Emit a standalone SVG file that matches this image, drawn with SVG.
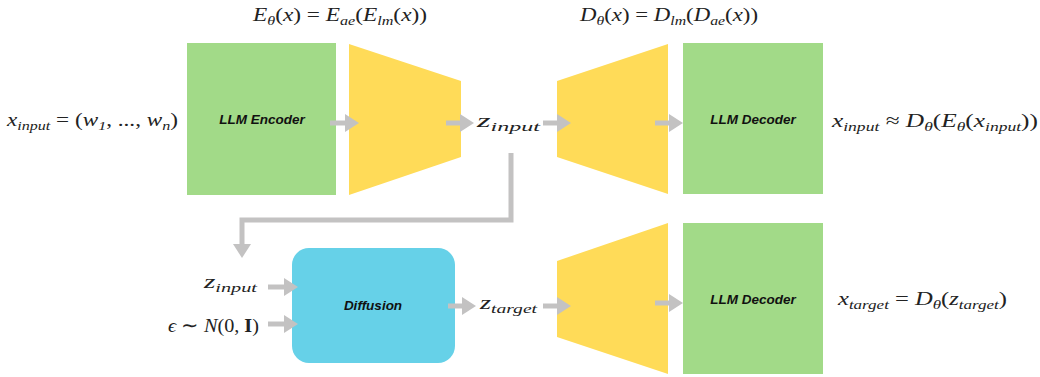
<svg xmlns="http://www.w3.org/2000/svg" width="1040" height="377" viewBox="0 0 1040 377">
<style>
.green{fill:#A2DA88}
.yellow{fill:#FFDB58}
.blue{fill:#66D1E8}
.lbl{font-family:"Liberation Sans",Arial,sans-serif;font-weight:bold;font-style:italic;font-size:13.5px;fill:#111;text-anchor:middle}
.m{font-family:"Liberation Serif","Times New Roman",serif;font-size:19.5px;fill:#222}
.i{font-style:italic}
.s{font-size:13.5px;font-style:italic}
.b{font-weight:bold}
.conn{stroke:#C3C2C2;stroke-width:5;fill:none}
</style>
<defs>
<marker id="ah" markerUnits="userSpaceOnUse" markerWidth="14" markerHeight="18" refX="0" refY="9" orient="auto">
<path d="M0,0 L14,9 L0,18 z" fill="#C3C2C2"/>
</marker>
</defs>

<g id="encoder-llm"><rect class="green" x="187" y="43" width="149" height="152"/><text class="lbl" x="262" y="124">LLM Encoder</text></g>
<g id="encoder-ae"><polygon class="yellow" points="349,44 461,81 461,157 349,195"/></g>
<g id="decoder-ae-top"><polygon class="yellow" points="557,81 668,44 668,194 557,157"/></g>
<g id="decoder-llm-top"><rect class="green" x="683" y="43" width="140" height="151"/><text class="lbl" x="753" y="124">LLM Decoder</text></g>
<g id="diffusion"><rect class="blue" x="292" y="248" width="163" height="115" rx="17"/><text class="lbl" x="373" y="310">Diffusion</text></g>
<g id="decoder-ae-bottom"><polygon class="yellow" points="557,261 668,223 668,374 557,337"/></g>
<g id="decoder-llm-bottom"><rect class="green" x="683" y="223" width="140" height="151"/><text class="lbl" x="753" y="304">LLM Decoder</text></g>

<g id="connectors">
<line class="conn" x1="330" y1="123" x2="345" y2="123" marker-end="url(#ah)"/>
<line class="conn" x1="446" y1="123" x2="460" y2="123" marker-end="url(#ah)"/>
<line class="conn" x1="543" y1="123" x2="557" y2="123" marker-end="url(#ah)"/>
<line class="conn" x1="655" y1="123" x2="669" y2="123" marker-end="url(#ah)"/>
<polyline class="conn" points="511,153 511,220 242,220 242,244" marker-end="url(#ah)"/>
<line class="conn" x1="268" y1="287" x2="284" y2="287" marker-end="url(#ah)"/>
<line class="conn" x1="268" y1="324" x2="284" y2="324" marker-end="url(#ah)"/>
<line class="conn" x1="448" y1="306" x2="462" y2="306" marker-end="url(#ah)"/>
<line class="conn" x1="543" y1="306" x2="557" y2="306" marker-end="url(#ah)"/>
<line class="conn" x1="655" y1="303" x2="669" y2="303" marker-end="url(#ah)"/>
</g>

<g id="labels">
<text class="m" x="253" y="21" textLength="174" lengthAdjust="spacingAndGlyphs"><tspan class="i">E</tspan><tspan class="s" dy="4">θ</tspan><tspan dy="-4">(</tspan><tspan class="i">x</tspan>) = <tspan class="i">E</tspan><tspan class="s" dy="4">ae</tspan><tspan dy="-4">(</tspan><tspan class="i">E</tspan><tspan class="s" dy="4">lm</tspan><tspan dy="-4">(</tspan><tspan class="i">x</tspan>))</text>
<text class="m" x="580" y="21" textLength="178" lengthAdjust="spacingAndGlyphs"><tspan class="i">D</tspan><tspan class="s" dy="4">θ</tspan><tspan dy="-4">(</tspan><tspan class="i">x</tspan>) = <tspan class="i">D</tspan><tspan class="s" dy="4">lm</tspan><tspan dy="-4">(</tspan><tspan class="i">D</tspan><tspan class="s" dy="4">ae</tspan><tspan dy="-4">(</tspan><tspan class="i">x</tspan>))</text>
<text class="m" x="7" y="126" textLength="171" lengthAdjust="spacingAndGlyphs"><tspan class="i">x</tspan><tspan class="s" dy="4">input</tspan><tspan dy="-4"> = (</tspan><tspan class="i">w</tspan><tspan class="s" dy="4">1</tspan><tspan dy="-4">, ..., </tspan><tspan class="i">w</tspan><tspan class="s" dy="4">n</tspan><tspan dy="-4">)</tspan></text>
<text class="m" x="477" y="127" textLength="63" lengthAdjust="spacingAndGlyphs"><tspan class="i">z</tspan><tspan class="s" dy="4">input</tspan></text>
<text class="m" x="832" y="127" textLength="206" lengthAdjust="spacingAndGlyphs"><tspan class="i">x</tspan><tspan class="s" dy="4">input</tspan><tspan dy="-4"> ≈ </tspan><tspan class="i">D</tspan><tspan class="s" dy="4">θ</tspan><tspan dy="-4">(</tspan><tspan class="i">E</tspan><tspan class="s" dy="4">θ</tspan><tspan dy="-4">(</tspan><tspan class="i">x</tspan><tspan class="s" dy="4">input</tspan><tspan dy="-4">))</tspan></text>
<text class="m" x="204" y="288" textLength="53" lengthAdjust="spacingAndGlyphs"><tspan class="i">z</tspan><tspan class="s" dy="4">input</tspan></text>
<text class="m" x="168" y="332" textLength="91" lengthAdjust="spacingAndGlyphs"><tspan class="i">ϵ</tspan> ∼ <tspan class="i">N</tspan>(0, <tspan class="b">I</tspan>)</text>
<text class="m" x="480" y="309" textLength="57" lengthAdjust="spacingAndGlyphs"><tspan class="i">z</tspan><tspan class="s" dy="4">target</tspan></text>
<text class="m" x="838" y="305" textLength="169" lengthAdjust="spacingAndGlyphs"><tspan class="i">x</tspan><tspan class="s" dy="4">target</tspan><tspan dy="-4"> = </tspan><tspan class="i">D</tspan><tspan class="s" dy="4">θ</tspan><tspan dy="-4">(</tspan><tspan class="i">z</tspan><tspan class="s" dy="4">target</tspan><tspan dy="-4">)</tspan></text>
</g>
</svg>
